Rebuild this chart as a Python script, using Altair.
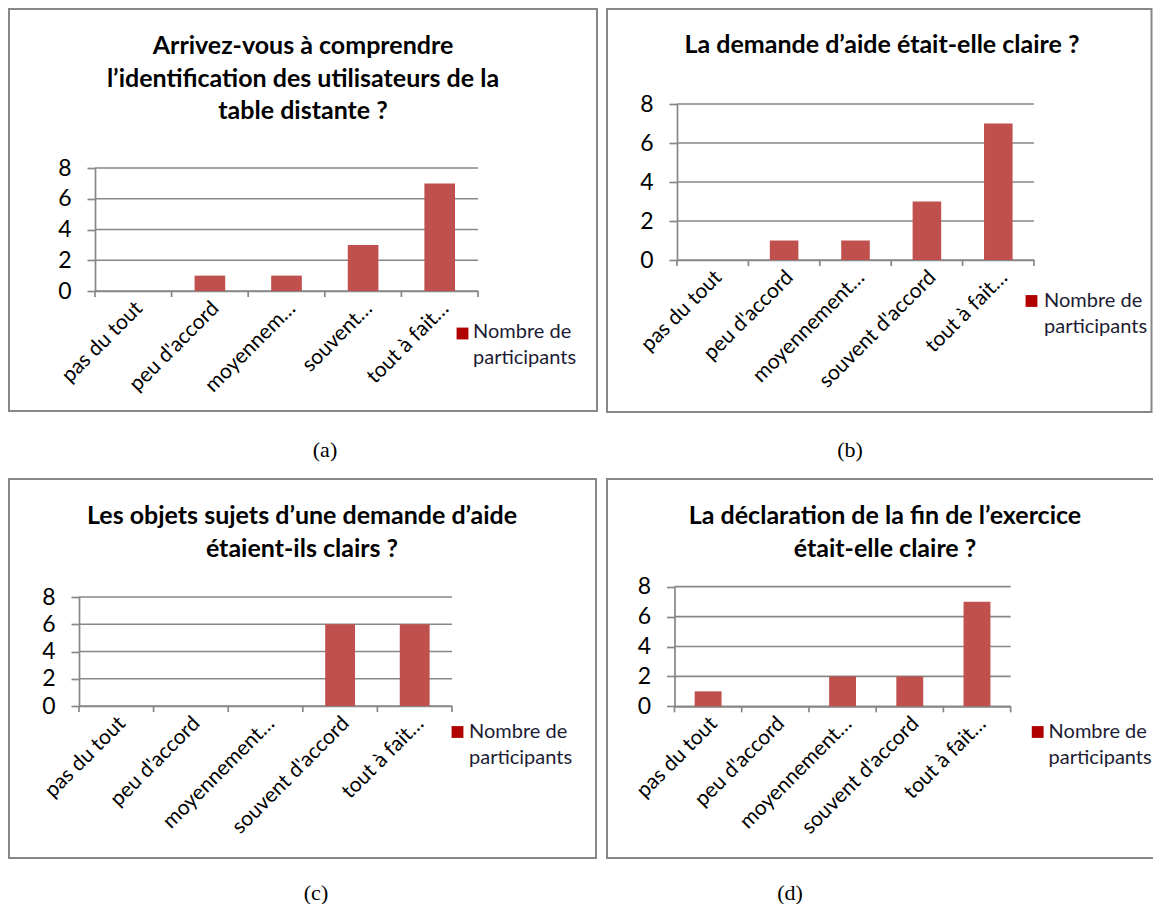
import altair as alt
import pandas as pd

# ---------------- data ----------------
CATS_A = ["pas du tout", "peu d'accord", "moyennem…", "souvent…", "tout à fait…"]
CATS_BCD = ["pas du tout", "peu d'accord", "moyennement…", "souvent d'accord", "tout à fait…"]

VALUES_A = [0, 1, 1, 3, 7]
VALUES_B = [0, 1, 1, 3, 7]
VALUES_C = [0, 0, 0, 6, 6]
VALUES_D = [1, 0, 2, 2, 7]

TITLE_A = ["Arrivez-vous à comprendre", "l’identification des utilisateurs de la", "table distante ?"]
TITLE_B = ["La demande d’aide était-elle claire ?"]
TITLE_C = ["Les objets sujets d’une demande d’aide", "étaient-ils clairs ?"]
TITLE_D = ["La déclaration de la fin de l’exercice", "était-elle claire ?"]
CAPTIONS = ["(a)", "(b)", "(c)", "(d)"]
LEGEND_LINES = ["Nombre de", "participants"]
Y_TICKS = [0, 2, 4, 6, 8]

# ---------------- style ----------------
FONT = "Lato"
GREY = "#878787"
BAR = "#C0504D"
LEG = "#B00000"
LEGTXT = "#1c1c34"
LW = 1.7

GEOM = {
    "a": dict(W=598, H=458, box=(1, 0, 589, 402), x0=87, x1=470, y0=282, y8=159,
              tx=295, ty=45, sq=(454.5, 324.5), lt=(465, 329), cap=(317, 441), clip=False),
    "b": dict(W=547, H=458, box=(1, 0, 545.5, 403), x0=71, x1=428, y0=251, y8=95,
              tx=276, ty=44, sq=(425.5, 292), lt=(438, 298), cap=(244, 441), clip=False),
    "c": dict(W=598, H=437, box=(1, 12, 588, 391), x0=71, x1=444, y0=239, y8=130,
              tx=294, ty=57, sq=(449.5, 265), lt=(461, 271), cap=(308, 426), clip=False),
    "d": dict(W=547, H=437, box=(1, 12, 560, 391), x0=68.5, x1=404.6, y0=239.3, y8=119.7,
              tx=279, ty=57, sq=(431.7, 265), lt=(442.6, 271), cap=(184, 426), clip=True),
}


def panel(cats, vals, title, caption, g):
    df = pd.DataFrame({"cat": cats, "v": vals})
    one = pd.DataFrame({"k": [0]})
    W, H = g["W"], g["H"]
    x0, x1, y0, y8 = g["x0"], g["x1"], g["y0"], g["y8"]
    xs = alt.Scale(domain=cats, range=[x0, x1], paddingInner=0, paddingOuter=0)
    ys = alt.Scale(domain=[0, 8], range=[y0, y8], nice=False, zero=True)

    yax = alt.Axis(values=Y_TICKS, orient="left", offset=-x0, grid=False, domain=True,
                   domainColor=GREY, domainWidth=LW, ticks=True, tickSize=8, tickColor=GREY,
                   tickWidth=LW, labelFont=FONT, labelFontSize=23, labelColor="black",
                   labelPadding=16, labelOverlap=False, title=None)
    xax = alt.Axis(orient="bottom", offset=y0 - H, domain=True, domainColor=GREY, domainWidth=LW,
                   ticks=False, tickSize=0, grid=False, labelAngle=-45, labelAlign="right",
                   labelBaseline="middle", labelFont=FONT, labelFontSize=21, labelColor="black",
                   labelPadding=14, labelOffset=6, labelOverlap=False, labelLimit=300, title=None)

    bx0, by0, bx1, by1 = g["box"]
    box = alt.Chart(one).mark_rect(filled=False, stroke=GREY, strokeWidth=2, clip=g["clip"]).encode(
        x=alt.value(bx0), x2=alt.value(bx1), y=alt.value(by0), y2=alt.value(by1))

    grid = alt.Chart(pd.DataFrame({"v": Y_TICKS})).mark_rule(color=GREY, strokeWidth=LW).encode(
        y=alt.Y("v:Q", scale=ys, axis=yax), x=alt.value(x0), x2=alt.value(x1))

    bars = alt.Chart(df).mark_bar(color=BAR, width=alt.RelativeBandSize(0.4)).encode(
        x=alt.X("cat:N", scale=xs, axis=xax),
        y=alt.Y("v:Q", scale=ys, axis=yax))

    ticks = alt.Chart(df).mark_rule(color=GREY, strokeWidth=LW).encode(
        x=alt.X("cat:N", scale=xs, axis=xax, bandPosition=0),
        y=alt.value(y0), y2=alt.value(y0 + 6))
    tick_end = alt.Chart(one).mark_rule(color=GREY, strokeWidth=LW).encode(
        x=alt.value(x1), y=alt.value(y0), y2=alt.value(y0 + 6))

    ttl = alt.Chart(one).mark_text(font=FONT, fontSize=25, fontWeight="bold", align="center",
                                   baseline="alphabetic", lineHeight=32.5, color="black").encode(
        x=alt.value(g["tx"]), y=alt.value(g["ty"]), text=alt.value(title))

    sq = alt.Chart(one).mark_square(size=140, color=LEG, opacity=1).encode(
        x=alt.value(g["sq"][0]), y=alt.value(g["sq"][1]))
    lt = alt.Chart(one).mark_text(font=FONT, fontSize=20, align="left", baseline="alphabetic",
                                  lineHeight=26, color=LEGTXT).encode(
        x=alt.value(g["lt"][0]), y=alt.value(g["lt"][1]), text=alt.value(LEGEND_LINES))

    cap = alt.Chart(one).mark_text(font="Liberation Serif", fontSize=22, align="center",
                                   baseline="middle", color="black").encode(
        x=alt.value(g["cap"][0]), y=alt.value(g["cap"][1]), text=alt.value(caption))

    return alt.layer(box, grid, bars, ticks, tick_end, ttl, sq, lt, cap).properties(width=W, height=H)


pa = panel(CATS_A, VALUES_A, TITLE_A, CAPTIONS[0], GEOM["a"])
pb = panel(CATS_BCD, VALUES_B, TITLE_B, CAPTIONS[1], GEOM["b"])
pc = panel(CATS_BCD, VALUES_C, TITLE_C, CAPTIONS[2], GEOM["c"])
pdd = panel(CATS_BCD, VALUES_D, TITLE_D, CAPTIONS[3], GEOM["d"])

row1 = alt.hconcat(pa, pb, spacing=0, bounds="flush")
row2 = alt.hconcat(pc, pdd, spacing=0, bounds="flush")
chart = alt.vconcat(row1, row2, spacing=0).properties(padding=0).configure_view(strokeWidth=0)

chart.save("out.html", embed_options={"renderer": "svg", "actions": False})
